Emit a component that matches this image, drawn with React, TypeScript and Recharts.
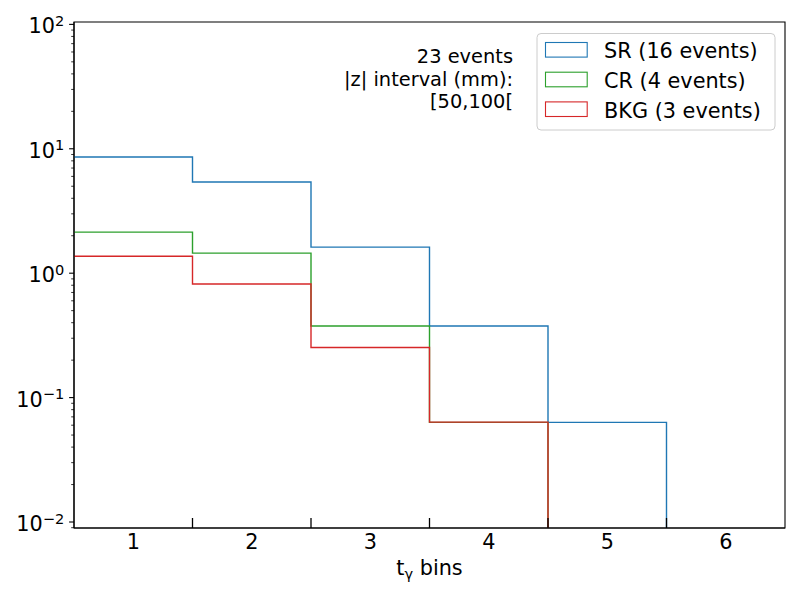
import React from "react";
import { ComposedChart, Line, XAxis, YAxis, Legend, ReferenceArea } from "recharts";

// histogram bins (centres) and heights
const binCenters = [1, 2, 3, 4, 5, 6];
const srValues = [8.59, 5.41, 1.62, 0.376, 0.0632, 0];
const crValues = [2.14, 1.45, 0.376, 0.0632, 0, 0];
const bkgValues = [1.37, 0.819, 0.253, 0.0635, 0, 0];

const seriesKeys = ["SR", "CR", "BKG"];
const seriesEvents = [16, 4, 3];
const seriesColors = ["#1f77b4", "#2ca02c", "#d62728"];

const annotationLines = ["23 events", "|z| interval (mm):", "[50,100["];
const xLabelMain = "t";
const xLabelSub = "γ";
const xLabelRest = " bins";

const yMajorTicks = [0.01, 0.1, 1, 10, 100];
const xLabelTicks = [1, 2, 3, 4, 5, 6];
const xEdgeTicks = [1.5, 2.5, 3.5, 4.5, 5.5];

const Y_MIN = 0.00895;
const Y_MAX = 104.5;
const FLOOR = 1e-6; // empty bins: drawn below the axis, clipped
const FONT = "DejaVu Sans";

const pos = (v: number) => (v > 0 ? v : FLOOR);

const edges = [...binCenters.map((c) => c - 0.5), binCenters[binCenters.length - 1] + 0.5];
const data = edges.map((x, i) => {
  const k = Math.min(i, binCenters.length - 1);
  return { x, SR: pos(srValues[k]), CR: pos(crValues[k]), BKG: pos(bkgValues[k]) };
});

const yMinorTicks: number[] = [];
for (let d = -3; d <= 1; d++) {
  for (let m = 2; m <= 9; m++) {
    const v = m * Math.pow(10, d);
    if (v >= Y_MIN && v <= Y_MAX) yMinorTicks.push(v);
  }
}
const yTicks = [...yMajorTicks, ...yMinorTicks].sort((a, b) => a - b);
const xTicks = [...xLabelTicks, ...xEdgeTicks].sort((a, b) => a - b);

const supText = (e: number) => (e < 0 ? "\u2212" + Math.abs(e) : String(e));

function YTick(props: any) {
  const { x, y, payload } = props;
  const v = payload.value as number;
  const e = Math.round(Math.log10(v));
  const major = Math.abs(Math.log10(v) - e) < 1e-6;
  if (!major) {
    return <line x1={x - 2.8} y1={y} x2={x} y2={y} stroke="#000" strokeWidth={0.8} />;
  }
  return (
    <g>
      <line x1={x - 4.9} y1={y} x2={x} y2={y} stroke="#000" strokeWidth={1.1} />
      <text x={x - 9.8} y={y + 9} textAnchor="end" fontFamily={FONT} fontSize={20.8} fill="#000">
        10
        <tspan dy={-7.5} fontSize={14.6}>
          {supText(e)}
        </tspan>
      </text>
    </g>
  );
}

function XTick(props: any) {
  const { x, y, payload } = props;
  const v = payload.value as number;
  if (Number.isInteger(v)) {
    return (
      <text x={x} y={y + 21} textAnchor="middle" fontFamily={FONT} fontSize={20.8} fill="#000">
        {v}
      </text>
    );
  }
  return <line x1={x} y1={y} x2={x} y2={y - 10} stroke="#000" strokeWidth={1.3} />;
}

function Overlay() {
  return (
    <svg width={800} height={600} style={{ position: "absolute", left: 0, top: 0 }}>
      {annotationLines.map((t, i) => (
        <text key={t} x={513} y={63 + i * 22.5} textAnchor="end" fontFamily={FONT} fontSize={19.4} fill="#000">
          {t}
        </text>
      ))}
      <rect x={537} y={33.5} width={238} height={96.5} rx={4} fill="#fff" fillOpacity={0.8} stroke="#cccccc" strokeWidth={1} />
      {seriesKeys.map((k, i) => (
        <g key={k}>
          <rect x={545.5} y={42.5 + i * 29.7} width={41.7} height={14.6} fill="none" stroke={seriesColors[i]} strokeWidth={1.1} />
          <text x={604} y={58.3 + i * 29.7} fontFamily={FONT} fontSize={20.8} fill="#000">
            {`${k} (${seriesEvents[i]} events)`}
          </text>
        </g>
      ))}
      <text x={429.5} y={575} textAnchor="middle" fontFamily={FONT} fontSize={20.8} fill="#000">
        {xLabelMain}
        <tspan dy={3.5} fontSize={14.6}>
          {xLabelSub}
        </tspan>
        <tspan dy={-3.5}>{xLabelRest}</tspan>
      </text>
    </svg>
  );
}

export default function App() {
  return (
    <div style={{ position: "absolute", left: 0, top: 0, width: 800, height: 600, background: "#fff" }}>
      <ComposedChart width={800} height={600} data={data} margin={{ top: 22, right: 15, bottom: 0, left: 0 }}>
        <XAxis
          dataKey="x"
          type="number"
          domain={[0.5, 6.5]}
          allowDataOverflow
          ticks={xTicks}
          interval={0}
          tickSize={0}
          tickMargin={0}
          tickLine={false}
          tick={(p: any) => <XTick {...p} />}
          axisLine={{ stroke: "#000", strokeWidth: 1.1 }}
          height={72}
        />
        <YAxis
          type="number"
          scale="log"
          domain={[Y_MIN, Y_MAX]}
          allowDataOverflow
          ticks={yTicks}
          interval={0}
          tickSize={0}
          tickMargin={0}
          tickLine={false}
          tick={(p: any) => <YTick {...p} />}
          axisLine={{ stroke: "#000", strokeWidth: 1.1 }}
          width={74}
        />
        {seriesKeys.map((k, i) => (
          <Line
            key={k}
            type="stepAfter"
            dataKey={k}
            stroke={seriesColors[i]}
            strokeWidth={1.4}
            dot={false}
            activeDot={false}
            isAnimationActive={false}
          />
        ))}
        <ReferenceArea x1={0.5} x2={6.5} y1={Y_MIN} y2={Y_MAX} fill="none" stroke="#000" strokeWidth={1.1} />
        <Legend
          verticalAlign="middle"
          layout="horizontal"
          align="center"
          content={() => <Overlay />}
          wrapperStyle={{ position: "absolute", left: 0, top: 0, width: 800, height: 600, pointerEvents: "none" }}
        />
      </ComposedChart>
    </div>
  );
}
